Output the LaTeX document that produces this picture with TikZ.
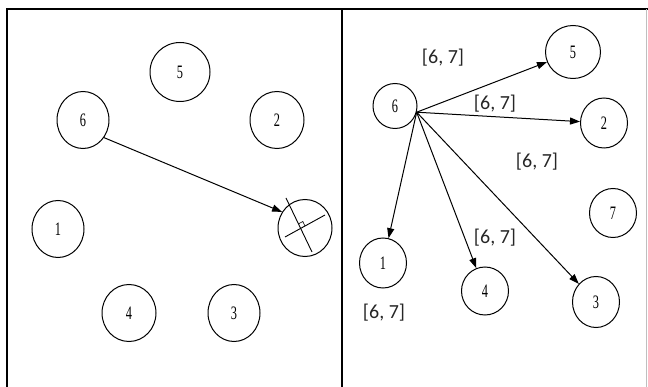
\documentclass[tikz,border=0pt]{standalone}
\usepackage{fontspec}
\setmainfont{Liberation Serif}
\newfontfamily\numfont[FakeStretch=0.65]{Liberation Serif}
\newfontfamily\labfont{Carlito}
\usetikzlibrary{shapes.geometric,arrows.meta}
\begin{document}
\begin{tikzpicture}[x=1pt,y=-1pt,
  nd/.style={draw,ellipse,line width=1pt,inner sep=0pt,font=\numfont\fontsize{19}{19}\selectfont},
  big/.style={nd,minimum width=54pt,minimum height=57pt},
  sml/.style={nd,minimum width=47pt,minimum height=49pt},
  lab/.style={font=\labfont\fontsize{20}{20}\selectfont,text=black!85},
  arr/.style={line width=1pt,-{Triangle[length=10pt,width=7pt]}},
  frame/.style={line width=1.2pt}]
\useasboundingbox (0,0) rectangle (648,387);
% frame
\draw[frame] (7,387) -- (7,9) -- (648,9);
\draw[frame] (342,9) -- (342,387);
\draw[line width=0.6pt,black!25] (646,9) -- (646,387);
% left panel
\node[nd,minimum width=60pt,minimum height=59pt] (l5) at (180,72) {5};
\node[big,minimum width=52pt] (l6) at (83,120) {6};
\node[big] (l2) at (277,120) {2};
\node[big,minimum width=52pt] (l1) at (58,229) {1};
\node[big] (l4) at (129,313) {4};
\node[big,minimum width=52pt] (l3) at (234,313) {3};
\node[big] (lx) at (305,228) {};
\coordinate (xa1) at (286,198);
\coordinate (xa2) at (312,252);
\coordinate (xb1) at (285,237);
\coordinate (xb2) at (325,215);
\draw[line width=0.9pt] (xa1) -- (xa2);
\draw[line width=0.9pt] (xb1) -- (xb2);
\draw[line width=0.6pt] (298.4,223.9) -- (302.8,221.5) -- (305,226);
\draw[arr] (l6.-40) -- (lx.145);
% right panel
\node[nd,minimum width=44pt,minimum height=45pt] (r6) at (395,106) {6};
\node[nd,minimum width=55pt,minimum height=53pt] (r5) at (573,52) {5};
\node[sml,minimum height=50pt] (r2) at (604,123) {2};
\node[sml] (r7) at (613,213) {7};
\node[sml,minimum height=50pt] (r1) at (383,263) {1};
\node[sml,minimum height=48pt] (r4) at (485,291) {4};
\node[sml,minimum height=51pt] (r3) at (596,302) {3};
\coordinate (src) at (r6.-16);
\draw[arr] (src) -- (r5);
\draw[arr] (src) -- (r2);
\draw[arr] (src) -- (r1);
\draw[arr] (src) -- (r4);
\draw[arr] (src) -- (r3);
\node[lab] (t1) at (443,58) {[6, 7]};
\node[lab] (t2) at (495,104) {[6, 7]};
\node[lab] (t3) at (537,162) {[6, 7]};
\node[lab] (t4) at (495,238) {[6, 7]};
\node[lab] (t5) at (384,313) {[6, 7]};
\end{tikzpicture}
\end{document}
